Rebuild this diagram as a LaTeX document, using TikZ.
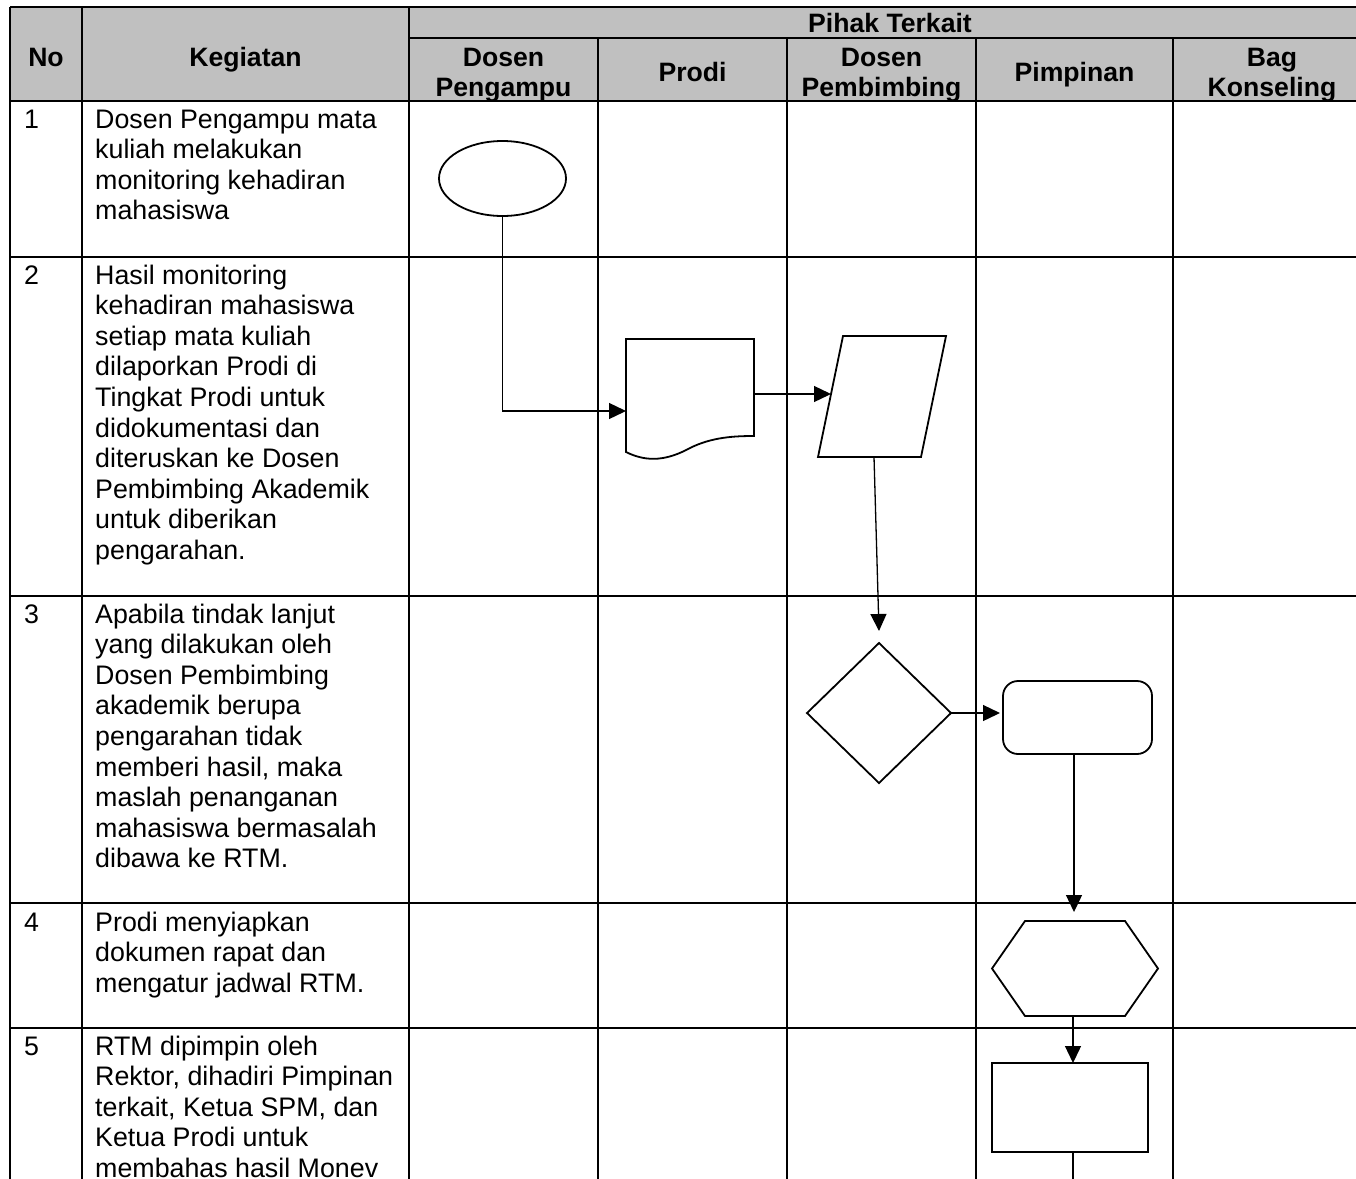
\documentclass[tikz,border=0pt]{standalone}
\usepackage{fontspec}
\setmainfont{Liberation Sans}
\usetikzlibrary{arrows.meta,shapes.geometric}
\definecolor{hdrgray}{HTML}{C0C0C0}
\begin{document}
\begin{tikzpicture}[x=1pt,y=-1pt,
  gridline/.style={line width=2.8pt},
  shp/.style={draw, line width=1.8pt, inner sep=0pt, outer sep=0pt},
  conn/.style={line width=1.3pt, -{Triangle[length=17pt,width=16pt]}},
  plainline/.style={line width=1.3pt},
  body/.style={anchor=base west, inner sep=0pt, font=\fontsize{26.8}{30.6}\selectfont},
  head/.style={anchor=base, inner sep=0pt, font=\fontsize{26.6}{30}\selectfont\bfseries, align=center},
]
\useasboundingbox (0,0) rectangle (1356,1178);
\clip (0,0) rectangle (1356,1178);

% header background
\fill[hdrgray] (10,7) rectangle (1371,101);

% grid
\draw[gridline] (10,7) -- (1371,7);
\draw[gridline] (409,38) -- (1371,38);
\draw[gridline] (10,101) -- (1371,101);
\draw[gridline] (10,257) -- (1371,257);
\draw[gridline] (10,596) -- (1371,596);
\draw[gridline] (10,903) -- (1371,903);
\draw[gridline] (10,1028) -- (1371,1028);
\draw[gridline] (10,7) -- (10,1190);
\draw[gridline] (82,7) -- (82,1190);
\draw[gridline] (409,7) -- (409,1190);
\foreach \xx in {598,787,976,1173} \draw[gridline] (\xx,38) -- (\xx,1190);
\draw[gridline] (1371,7) -- (1371,1190);

% header text
\node[head] (hNo) at (46,66) {No};
\node[head] (hKeg) at (245.5,66) {Kegiatan};
\node[head] (hPihak) at (890,32) {Pihak Terkait};
\node[head] (hDP1) at (503.5,66) {Dosen};
\node[head] (hDP2) at (503.5,96) {Pengampu};
\node[head] (hProdi) at (692.5,81) {Prodi};
\node[head] (hDB1) at (881.5,66) {Dosen};
\node[head] (hDB2) at (881.5,96) {Pembimbing};
\node[head] (hPim) at (1074.5,81) {Pimpinan};
\node[head] (hBag1) at (1272,66) {Bag};
\node[head] (hBag2) at (1272,96) {Konseling};

% row numbers
\node[body] (n1) at (24,128) {1};
\node[body] (n2) at (24,284) {2};
\node[body] (n3) at (24,623) {3};
\node[body] (n4) at (24,931) {4};
\node[body] (n5) at (24,1055) {5};

% activities
\node[body] (k1) at (95,128) {\parbox[t]{310pt}{Dosen Pengampu mata\\kuliah melakukan\\monitoring kehadiran\\mahasiswa}};
\node[body] (k2) at (95,284) {\parbox[t]{310pt}{Hasil monitoring\\kehadiran mahasiswa\\setiap mata kuliah\\dilaporkan Prodi di\\Tingkat Prodi untuk\\didokumentasi dan\\diteruskan ke Dosen\\Pembimbing Akademik\\untuk diberikan\\pengarahan.}};
\node[body] (k3) at (95,623) {\parbox[t]{310pt}{Apabila tindak lanjut\\yang dilakukan oleh\\Dosen Pembimbing\\akademik berupa\\pengarahan tidak\\memberi hasil, maka\\maslah penanganan\\mahasiswa bermasalah\\dibawa ke RTM.}};
\node[body] (k4) at (95,931) {\parbox[t]{310pt}{Prodi menyiapkan\\dokumen rapat dan\\mengatur jadwal RTM.}};
\node[body] (k5) at (95,1055) {\parbox[t]{310pt}{RTM dipimpin oleh\\Rektor, dihadiri Pimpinan\\terkait, Ketua SPM, dan\\Ketua Prodi untuk\\membahas hasil Monev}};

% shapes
\node[shp, ellipse, minimum width=127pt, minimum height=75pt] (start) at (502.5,178.5) {};
\draw[line width=1.8pt] (626,339) -- (754,339) -- (754,436)
  .. controls (735,436) and (712,437) .. (690,448)
  .. controls (668,460) and (648,463) .. (626,452) -- cycle;
\coordinate (docin) at (626,411);
\coordinate (docout) at (754,394);
\draw[line width=1.8pt] (843,336) -- (946,336) -- (921,457) -- (818,457) -- cycle;
\coordinate (parain) at (831,394);
\coordinate (paraout) at (874,457);
\node[shp, diamond, minimum width=144pt, minimum height=140pt] (dec) at (879,713) {};
\node[shp, rectangle, rounded corners=15pt, minimum width=149pt, minimum height=73pt] (act) at (1077.5,717.5) {};
\draw[line width=1.8pt] (992,968.5) -- (1025,921) -- (1125,921) -- (1158,968.5) -- (1125,1016) -- (1025,1016) -- cycle;
\coordinate (hexT) at (1074,921);
\coordinate (hexB) at (1073,1016);
\node[shp, rectangle, minimum width=156pt, minimum height=89pt] (proc) at (1070,1107.5) {};
\coordinate (bottomend) at (1073,1195);

% connectors
\draw[conn] (start.south) |- (docin);
\draw[conn] (docout) -- (parain);
\draw[conn] (paraout) -- ([yshift=12pt]dec.north);
\draw[conn] (dec.east) -- ([xshift=-3pt]dec.east -| act.west);
\draw[conn] (act.south -| hexT) -- ([yshift=9pt]hexT);
\draw[conn] (hexB) -- (hexB |- proc.north);
\draw[plainline] (proc.south -| hexB) -- (bottomend);
\end{tikzpicture}
\end{document}
